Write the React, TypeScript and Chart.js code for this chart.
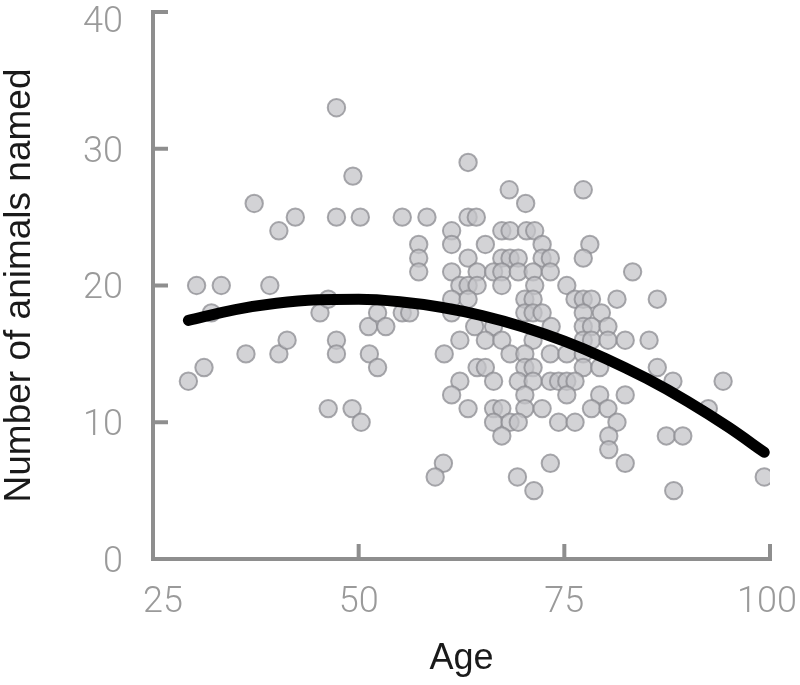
import React, { useEffect, useRef } from 'react';
import { Chart, registerables } from 'chart.js';

Chart.register(...registerables);

// Scatter data: age of participant and number of animals named
const ages = [
  29.3, 30.3, 31.2, 32.1, 33.3, 36.3, 37.3, 39.2, 40.3, 40.3, 41.3, 42.3, 45.3, 46.3, 46.3, 47.3,
  47.3, 47.3, 47.3, 49.3, 49.2, 50.2, 50.3, 51.2, 51.3, 52.3, 52.3, 53.3, 55.3, 55.3, 56.2, 58.3,
  63.3,
  68.3, 77.3,
  70.3,
  63.3, 64.3,
  61.3, 67.4, 68.4, 70.4, 71.4,
  57.3, 61.3, 65.4, 72.3, 78.1,
  57.3, 63.3, 67.4, 68.4, 69.4, 72.3, 73.3, 77.3,
  57.3, 61.3, 64.4, 66.4, 67.4, 69.4, 71.2, 73.3, 83.3,
  62.3, 63.3, 64.4, 67.4, 71.4, 75.3,
  61.3, 63.3, 70.2, 71.2, 76.3, 77.3, 78.3, 81.4, 86.3,
  61.3, 70.2, 71.2, 72.3, 77.3, 79.5,
  64.1, 66.4, 73.4, 77.3, 78.3, 80.3,
  62.3, 65.4, 67.4, 71.2, 77.3, 78.3, 80.3, 82.4, 85.3,
  60.4, 68.4, 70.2, 73.3, 75.3, 77.3,
  64.4, 65.4, 70.2, 71.2, 77.3, 79.3, 86.3,
  62.3, 66.4, 69.4, 71.2, 73.3, 74.3, 75.3, 76.3, 88.2, 94.3,
  61.3, 70.2, 75.3, 79.3, 82.4,
  63.3, 66.4, 67.4, 70.2, 72.3, 78.3, 80.3, 92.5,
  66.4, 68.4, 69.4, 74.3, 76.3, 81.4,
  67.4, 80.4, 87.4, 89.4,
  80.4,
  60.3, 73.3, 82.4,
  59.3, 69.3, 99.3,
  71.3, 88.3,
];

const animalCounts = [
  13, 20, 14, 18, 20, 15, 26, 20, 24, 15, 16, 25, 18, 19, 11, 33,
  25, 16, 15, 28, 11, 25, 10, 17, 15, 18, 14, 17, 25, 18, 18, 25,
  29,
  27, 27,
  26,
  25, 25,
  24, 24, 24, 24, 24,
  23, 23, 23, 23, 23,
  22, 22, 22, 22, 22, 22, 22, 22,
  21, 21, 21, 21, 21, 21, 21, 21, 21,
  20, 20, 20, 20, 20, 20,
  19, 19, 19, 19, 19, 19, 19, 19, 19,
  18, 18, 18, 18, 18, 18,
  17, 17, 17, 17, 17, 17,
  16, 16, 16, 16, 16, 16, 16, 16, 16,
  15, 15, 15, 15, 15, 15,
  14, 14, 14, 14, 14, 14, 14,
  13, 13, 13, 13, 13, 13, 13, 13, 13, 13,
  12, 12, 12, 12, 12,
  11, 11, 11, 11, 11, 11, 11, 11,
  10, 10, 10, 10, 10, 10,
  9, 9, 9, 9,
  8,
  7, 7, 7,
  6, 6, 6,
  5, 5,
];

// Fitted curve
const fitAges = [29.3, 35, 40, 45, 50, 55, 60, 65, 70, 75, 80, 85, 90, 95, 99.3];
const fitCounts = [17.45, 18.24, 18.7, 18.95, 18.99, 18.81, 18.41, 17.8, 16.97, 15.93, 14.67, 13.2, 11.52, 9.62, 7.8];

const xTicks = [25, 50, 75, 100];
const yTicks = [0, 10, 20, 30, 40];
const xTitle = 'Age';
const yTitle = 'Number of animals named';

const AXIS_COLOR = '#8e8e8e';
const TICK_LABEL_COLOR = '#9a9a9a';
const TICK_FONT = '300 36px Roboto, "Liberation Sans", sans-serif';

const axisPlugin = {
  id: 'axisFrame',
  beforeDatasetsDraw(chart: any) {
    const { ctx, chartArea, scales } = chart;
    const { left, right, top, bottom } = chartArea;
    const x = scales.x;
    const y = scales.y;
    const tickLen = 15;
    ctx.save();
    ctx.strokeStyle = AXIS_COLOR;
    ctx.lineWidth = 4;
    ctx.lineJoin = 'miter';
    ctx.lineCap = 'butt';
    const yTop = y.getPixelForValue(yTicks[yTicks.length - 1]);
    const xRight = x.getPixelForValue(xTicks[xTicks.length - 1]);
    ctx.beginPath();
    ctx.moveTo(left + tickLen, yTop);
    ctx.lineTo(left, yTop);
    ctx.lineTo(left, bottom);
    ctx.lineTo(xRight, bottom);
    ctx.lineTo(xRight, bottom - tickLen);
    ctx.stroke();
    ctx.beginPath();
    yTicks.slice(1, -1).forEach((v) => {
      const py = y.getPixelForValue(v);
      ctx.moveTo(left, py);
      ctx.lineTo(left + tickLen, py);
    });
    xTicks.slice(1, -1).forEach((v) => {
      const px = x.getPixelForValue(v);
      ctx.moveTo(px, bottom);
      ctx.lineTo(px, bottom - tickLen);
    });
    ctx.stroke();

    // tick labels
    ctx.font = TICK_FONT;
    ctx.fillStyle = TICK_LABEL_COLOR;
    ctx.textBaseline = 'alphabetic';
    ctx.textAlign = 'right';
    yTicks.forEach((v) => {
      const py = y.getPixelForValue(v);
      const base = Math.max(py + 12.8, 31.5);
      ctx.fillText(String(v), left - 30, base);
    });
    ctx.textAlign = 'left';
    xTicks.forEach((v) => {
      const px = x.getPixelForValue(v);
      const label = String(v);
      const w = ctx.measureText(label).width;
      let start = px - w / 2;
      start = Math.max(start, left - 10);
      start = Math.min(start, chart.width - 3 - w);
      ctx.fillText(label, start, bottom + 53);
    });
    ctx.restore();
  },
};

export default function App() {
  const canvasRef = useRef<HTMLCanvasElement | null>(null);

  useEffect(() => {
    document.body.style.margin = '0';
    const canvas = canvasRef.current;
    if (!canvas) return;
    const scatterData = ages.map((a, i) => ({ x: a, y: animalCounts[i] }));
    const fitData = fitAges.map((a, i) => ({ x: a, y: fitCounts[i] }));

    const chart = new Chart(canvas, {
      type: 'scatter',
      data: {
        datasets: [
          {
            type: 'line',
            data: fitData,
            borderColor: '#000000',
            borderWidth: 11,
            borderCapStyle: 'round',
            pointRadius: 0,
            fill: false,
            tension: 0.4,
            cubicInterpolationMode: 'monotone',
            order: 0,
          } as any,
          {
            type: 'scatter',
            data: scatterData,
            backgroundColor: 'rgba(196,196,200,0.75)',
            borderColor: 'rgba(140,140,145,0.75)',
            borderWidth: 2,
            pointRadius: 8.7,
            order: 1,
          } as any,
        ],
      },
      options: {
        animation: false,
        responsive: false,
        layout: { padding: { top: 12, right: 30, left: 0, bottom: 0 } },
        plugins: {
          legend: { display: false },
          tooltip: { enabled: false },
        },
        scales: {
          x: {
            type: 'linear',
            min: 25,
            max: 100,
            grid: { display: false },
            border: { display: false },
            ticks: { display: false },
            title: {
              display: true,
              text: xTitle,
              color: '#1a1a1a',
              font: { family: '"Liberation Sans", Arial, sans-serif', size: 36 },
              padding: { top: 0, bottom: 4 },
            },
            afterFit: (s: any) => {
              s.height = 126;
            },
          },
          y: {
            type: 'linear',
            min: 0,
            max: 40,
            grid: { display: false },
            border: { display: false },
            ticks: { display: false },
            title: {
              display: true,
              text: yTitle,
              color: '#1a1a1a',
              font: { family: '"Liberation Sans", Arial, sans-serif', size: 37 },
              padding: { top: -2, bottom: 0 },
            },
            afterFit: (s: any) => {
              s.width = 153;
            },
          },
        },
      } as any,
      plugins: [axisPlugin],
    });

    return () => {
      chart.destroy();
    };
  }, []);

  return (
    <div style={{ width: 800, height: 685 }}>
      <canvas ref={canvasRef} width={800} height={685} style={{ display: 'block' }} />
    </div>
  );
}
